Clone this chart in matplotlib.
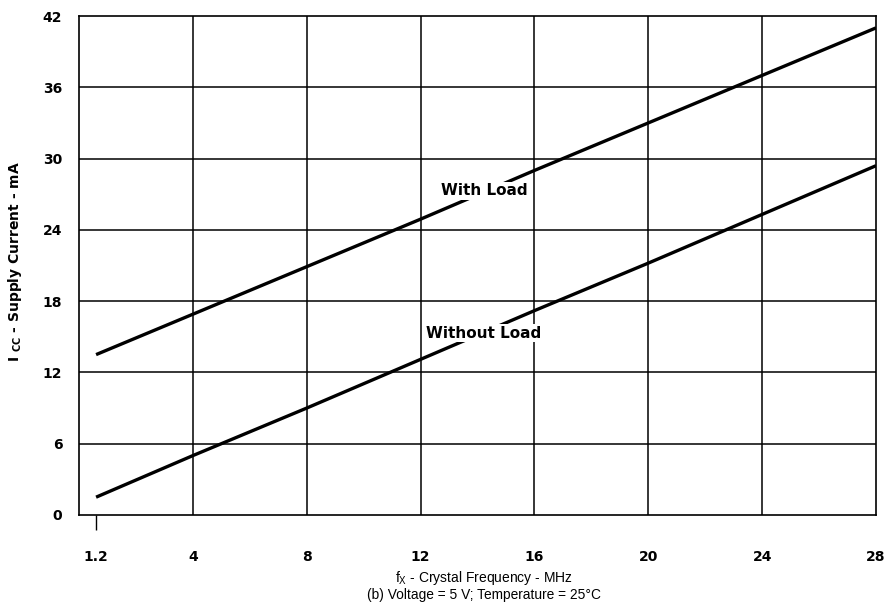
import numpy as np
import matplotlib
matplotlib.use("Agg")
import matplotlib.pyplot as plt

plt.rcParams['font.family'] = ['Liberation Sans', 'DejaVu Sans']
plt.rcParams['mathtext.fontset'] = 'custom'
plt.rcParams['mathtext.rm'] = 'Liberation Sans'
plt.rcParams['mathtext.bf'] = 'DejaVu Sans:bold'

BOLD = ['DejaVu Sans']

# Data
freq_mhz = [1.2, 4, 8, 12, 16, 20, 24, 28]
with_load = [13.5, 16.9, 20.9, 24.9, 29.0, 33.0, 37.0, 41.0]
without_load = [1.5, 5.0, 9.0, 13.1, 17.2, 21.2, 25.3, 29.4]
x_ticks = [1.2, 4, 8, 12, 16, 20, 24, 28]
x_tick_labels = ["1.2", "4", "8", "12", "16", "20", "24", "28"]
y_ticks = [0, 6, 12, 18, 24, 30, 36, 42]

# The original axis is compressed below 4 MHz (1.2 sits near 0.6 on a linear scale)
K = (4 - 0.6) / (4 - 1.2)

def fwd(x):
    x = np.asarray(x, dtype=float)
    return np.where(x >= 4, x, 4 - (4 - x) * K)

def inv(t):
    t = np.asarray(t, dtype=float)
    return np.where(t >= 4, t, 4 - (4 - t) / K)

fig = plt.figure(figsize=(8.88, 6.13), dpi=100)
ax = fig.add_axes([79/888, 1 - 515/613, (876-79)/888, (515-16)/613])
ax.set_xscale('function', functions=(fwd, inv))
ax.set_xlim(float(inv(0.0)), 28)
ax.set_ylim(0, 42)

# grid
for gx in x_ticks[1:-1]:
    ax.axvline(gx, color='black', lw=1.1, zorder=1)
for gy in y_ticks[1:-1]:
    ax.axhline(gy, color='black', lw=1.1, zorder=1)

ax.plot(freq_mhz, with_load, color='black', lw=2.4, solid_capstyle='butt', zorder=2)
ax.plot(freq_mhz, without_load, color='black', lw=2.4, solid_capstyle='butt', zorder=2)

ax.text(14.25, 27.3, "With Load", fontsize=11, fontweight='bold', family=BOLD,
        ha='center', va='center',
        bbox=dict(facecolor='white', edgecolor='none', pad=1.0), zorder=3)
ax.text(14.2, 15.3, "Without Load", fontsize=11, fontweight='bold', family=BOLD,
        ha='center', va='center',
        bbox=dict(facecolor='white', edgecolor='none', pad=1.0), zorder=3)

ax.xaxis.remove_overlapping_locs = False
ax.set_xticks(x_ticks)
ax.set_xticklabels(x_tick_labels, fontsize=10, fontweight='bold', family=BOLD)
ax.set_xticks([1.2], minor=True)
ax.tick_params(axis='x', which='major', length=0, pad=25)
ax.tick_params(axis='x', which='minor', length=11, width=1.0, direction='out', color='black')
ax.set_yticks(y_ticks)
ax.set_yticklabels([str(v) for v in y_ticks], fontsize=10, fontweight='bold', family=BOLD)
ax.tick_params(axis='y', length=0, pad=12)

for s in ax.spines.values():
    s.set_linewidth(1.2)
    s.set_color('black')

fig.text(15/888, 1 - 262/613, r"$\mathbf{I}$ $_{\mathbf{CC}}$ - Supply Current - mA", rotation=90,
         fontsize=10, fontweight='bold', family=BOLD, ha='center', va='center')
fig.text(484/888, 1 - 578/613, r"f$_{\mathrm{X}}$ - Crystal Frequency - MHz",
         fontsize=10, ha='center', va='center')
fig.text(484/888, 1 - 595/613, "(b) Voltage = 5 V; Temperature = 25°C",
         fontsize=9.9, ha='center', va='center')

fig.savefig("out.png", dpi=100)
